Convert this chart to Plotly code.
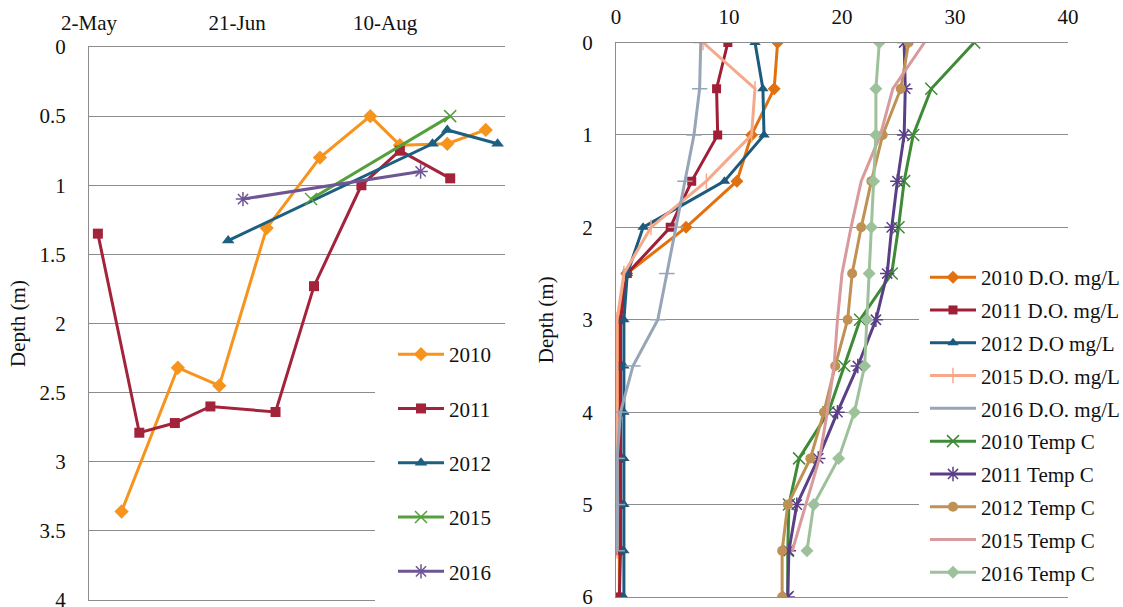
import plotly.graph_objects as go

# ---------------- Left panel: depth of sampling through the season ----------------
years_left = ["2010", "2011", "2012", "2015", "2016"]

dates_2010 = ["2010-05-13", "2010-06-01", "2010-06-15", "2010-07-01", "2010-07-19",
              "2010-08-05", "2010-08-15", "2010-08-31", "2010-09-13"]
depth_2010 = [3.36, 2.32, 2.45, 1.31, 0.80, 0.50, 0.71, 0.70, 0.60]

dates_2011 = ["2010-05-05", "2010-05-19", "2010-05-31", "2010-06-12", "2010-07-04",
              "2010-07-17", "2010-08-02", "2010-08-15", "2010-09-01"]
depth_2011 = [1.35, 2.79, 2.72, 2.60, 2.64, 1.73, 1.00, 0.75, 0.95]

dates_2012 = ["2010-06-18", "2010-08-26", "2010-08-31", "2010-09-17"]
depth_2012 = [1.40, 0.70, 0.60, 0.70]

dates_2015 = ["2010-07-16", "2010-09-01"]
depth_2015 = [1.10, 0.50]

dates_2016 = ["2010-06-23", "2010-08-22"]
depth_2016 = [1.10, 0.90]

date_ticks = ["2010-05-02", "2010-06-21", "2010-08-10"]
date_tick_text = ["2-May", "21-Jun", "10-Aug"]
depth_ticks_left = [0, 0.5, 1, 1.5, 2, 2.5, 3, 3.5, 4]

# ---------------- Right panel: D.O. and temperature profiles ----------------
depth_profile = [0, 0.5, 1, 1.5, 2, 2.5, 3, 3.5, 4, 4.5, 5, 5.5, 6]
depth_profile_short = depth_profile[:12]

do_2010 = [14.3, 14.0, 12.0, 10.7, 6.2, 0.95, 0.3, 0.3, 0.3, 0.3, 0.3, 0.3, 0.3]
do_2011 = [9.9, 8.9, 9.0, 6.7, 4.8, 1.0, 0.4, 0.4, 0.4, 0.4, 0.4, 0.4, 0.3]
do_2012 = [12.3, 13.0, 13.1, 9.6, 2.4, 1.0, 0.7, 0.7, 0.7, 0.7, 0.7, 0.7, 0.7]
do_2015 = [7.7, 12.3, 12.0, 8.0, 3.1, 0.7, 0.1, 0.1, 0.1, 0.1, 0.1, 0.1]
do_2016 = [7.5, 7.4, 6.9, 6.1, 5.3, 4.5, 3.7, 1.5, 0.4, 0.1, 0.15, 0.1]

temp_2010 = [31.7, 27.9, 26.3, 25.5, 25.0, 24.4, 21.6, 20.2, 18.8, 16.2, 15.3, 15.2, 15.2]
temp_2011 = [25.5, 25.6, 25.5, 24.9, 24.4, 24.0, 23.0, 21.4, 19.6, 17.9, 16.0, 15.3, 15.2]
temp_2012 = [25.9, 25.2, 23.6, 22.6, 21.7, 20.9, 20.5, 19.4, 18.4, 17.2, 15.2, 14.7, 14.7]
temp_2015 = [27.3, 24.5, 23.4, 21.7, 20.8, 20.0, 19.6, 19.3, 18.7, 18.0, 16.8, 15.6]
temp_2016 = [23.3, 23.0, 23.0, 22.8, 22.6, 22.4, 22.2, 22.0, 21.1, 19.7, 17.5, 16.9]

value_ticks_right = [0, 10, 20, 30, 40]
depth_ticks_right = [0, 1, 2, 3, 4, 5, 6]

FONT = "Liberation Serif"
GRID = "#8C8C8C"
W, H = 1123, 607

fig = go.Figure()


def add(x, y, name, color, symbol, size, xa, ya, legend, mode="lines+markers", mline=0):
    marker = dict(symbol=symbol, size=size, color=color,
                  line=dict(color=color, width=mline))
    fig.add_trace(go.Scatter(
        x=x, y=y, name=name, mode=mode, xaxis=xa, yaxis=ya,
        line=dict(color=color, width=3), marker=marker,
        legend=legend, legendgroup=name, showlegend=True,
    ))


# left panel series
add(dates_2010, depth_2010, years_left[0], "#F7941E", "diamond", 11, "x", "y", "legend")
add(dates_2011, depth_2011, years_left[1], "#A3233B", "square", 10, "x", "y", "legend")
add(dates_2012, depth_2012, years_left[2], "#1D5F80", "triangle-up", 11, "x", "y", "legend")
add(dates_2015, depth_2015, years_left[3], "#55A03C", "x-thin-open", 12, "x", "y", "legend", mline=1.5)
add(dates_2016, depth_2016, years_left[4], "#6E5594", "asterisk-open", 12, "x", "y", "legend", mline=1.5)

# right panel series
add(do_2010, depth_profile, "2010 D.O. mg/L", "#E2700E", "diamond", 10, "x2", "y2", "legend2")
add(do_2011, depth_profile, "2011 D.O. mg/L", "#A01F36", "square", 9, "x2", "y2", "legend2")
add(do_2012, depth_profile, "2012 D.O mg/L", "#1C5A7E", "triangle-up", 10, "x2", "y2", "legend2")
add(do_2015, depth_profile_short, "2015 D.O. mg/L", "#F6A98A", "line-ns-open", 11, "x2", "y2", "legend2", mline=1.5)
add(do_2016, depth_profile_short, "2016 D.O. mg/L", "#97A5B8", "line-ew-open", 11, "x2", "y2", "legend2", mline=1.5)
add(temp_2010, depth_profile, "2010 Temp C", "#3E8A37", "x-thin-open", 12, "x2", "y2", "legend2", mline=1.5)
add(temp_2011, depth_profile, "2011 Temp C", "#5A3F87", "asterisk-open", 12, "x2", "y2", "legend2", mline=1.5)
add(temp_2012, depth_profile, "2012 Temp C", "#C09154", "circle", 10, "x2", "y2", "legend2")
add(temp_2015, depth_profile_short, "2015 Temp C", "#D89A9C", "circle", 1, "x2", "y2", "legend2", mode="lines")
add(temp_2016, depth_profile_short, "2016 Temp C", "#9DC19B", "diamond", 10, "x2", "y2", "legend2")

tick_font = dict(family=FONT, size=21, color="#111111")

# plot areas in pixels
L_x0, L_x1, L_y0, L_y1 = 89, 505, 47, 600
R_x0, R_x1, R_y0, R_y1 = 616, 1068, 42.5, 597

fig.update_layout(
    width=W, height=H,
    margin=dict(l=0, r=0, t=0, b=0, autoexpand=False),
    paper_bgcolor="white", plot_bgcolor="white",
    font=dict(family=FONT, size=21, color="#111111"),
    xaxis=dict(
        domain=[L_x0 / W, L_x1 / W], anchor="y", type="date",
        range=["2010-05-02", "2010-09-19 12:00"],
        tickvals=date_ticks, ticktext=date_tick_text, side="top",
        showgrid=False, showline=True, mirror=True, linecolor=GRID, linewidth=1,
        ticks="", tickfont=tick_font, ticklabelstandoff=8, zeroline=False,
        automargin=False,
    ),
    yaxis=dict(
        domain=[1 - L_y1 / H, 1 - L_y0 / H], anchor="x",
        range=[4, 0], tickvals=depth_ticks_left,
        showgrid=True, gridcolor=GRID, gridwidth=1,
        showline=True, linecolor=GRID, linewidth=1, zeroline=False,
        ticks="", tickfont=tick_font, ticklabelstandoff=18,
        ticklabeloverflow="allow",
        title=dict(text="Depth (m)", font=tick_font, standoff=8),
        automargin=False,
    ),
    xaxis2=dict(
        domain=[R_x0 / W, R_x1 / W], anchor="y2",
        range=[0, 40], tickvals=value_ticks_right, side="top",
        showgrid=False, showline=True, mirror=True, linecolor=GRID, linewidth=1,
        ticks="", tickfont=tick_font, ticklabelstandoff=9, zeroline=False,
        automargin=False,
    ),
    yaxis2=dict(
        domain=[1 - R_y1 / H, 1 - R_y0 / H], anchor="x2",
        range=[6, 0], tickvals=depth_ticks_right,
        showgrid=True, gridcolor=GRID, gridwidth=1,
        showline=True, linecolor=GRID, linewidth=1, zeroline=False,
        ticks="", tickfont=tick_font, ticklabelstandoff=18,
        ticklabeloverflow="allow",
        title=dict(text="Depth (m)", font=tick_font, standoff=22),
        automargin=False,
    ),
    legend=dict(
        x=393 / W, y=1 - 334 / H, xanchor="left", yanchor="top",
        bgcolor="rgba(255,255,255,0)", borderwidth=0,
        font=dict(family=FONT, size=21, color="#111111"),
        itemwidth=46, tracegroupgap=24, itemclick=False,
    ),
    legend2=dict(
        x=925 / W, y=1 - 257 / H, xanchor="left", yanchor="top",
        bgcolor="rgba(255,255,255,0)", borderwidth=0,
        font=dict(family=FONT, size=21, color="#111111"),
        itemwidth=46, tracegroupgap=2.5, itemclick=False,
    ),
    shapes=[
        # white panels behind the legends
        dict(type="rect", xref="paper", yref="paper", layer="above",
             x0=375 / W, x1=510 / W, y0=1 - 603 / H, y1=1 - 330 / H,
             fillcolor="white", line=dict(width=0)),
        dict(type="rect", xref="paper", yref="paper", layer="above",
             x0=919 / W, x1=1.0, y0=1 - 592 / H, y1=1 - 260 / H,
             fillcolor="white", line=dict(width=0)),
    ],
)

fig.write_html("out.html")
